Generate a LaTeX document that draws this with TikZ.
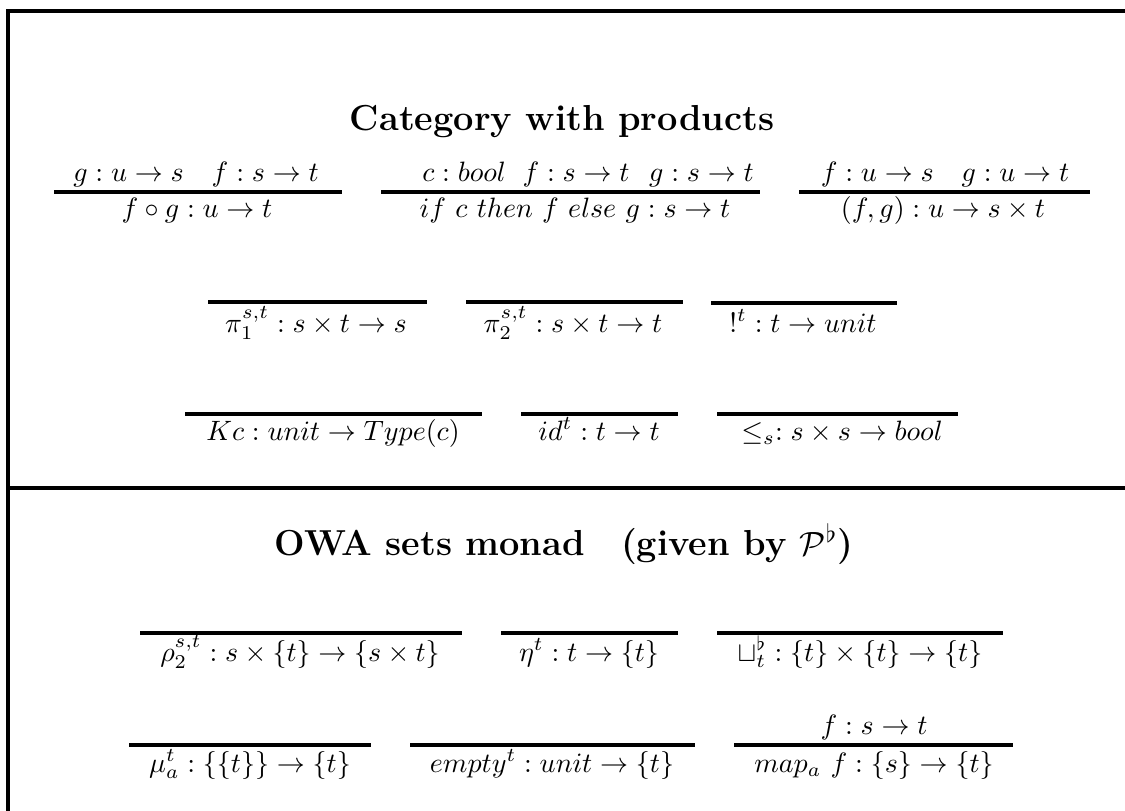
\documentclass[tikz,border=0pt]{standalone}
\begin{document}
\begin{tikzpicture}[x=0.357pt,y=-0.357pt,
  lbl/.style={inner sep=0pt, anchor=base, font=\fontsize{10}{12}\selectfont},
  ttl/.style={inner sep=0pt, anchor=base, font=\fontsize{12.9}{15}\selectfont\bfseries},
  rulebar/.style={line width=1.15pt},
  framebar/.style={line width=1.2pt}]
\useasboundingbox (0,0) rectangle (1125,811);
% frame
\draw[framebar] (1125,11) -- (8,11) -- (8,811);
\draw[framebar] (8,488) -- (1125,488);
% titles
\node[ttl] (t1) at (562,131) {Category with products};
\node[ttl] (t2) at (564,555) {OWA sets monad\quad (given by $\mathcal{P}^\flat$)};
% row 1
\node[lbl] (n1) at (196,182) {$g : u \to s \quad f : s \to t$};
\node[lbl] (d1) at (197,218) {$f \circ g : u \to t$};
\draw[rulebar] (54,192) -- (342,192);
\node[lbl] (n2) at (588,182) {$c : bool\hspace{6pt} f : s \to t\hspace{7pt} g : s \to t$};
\node[lbl] (d2) at (575,218) {$if\ c\ then\ f\ else\ g : s \to t$};
\draw[rulebar] (381,192) -- (760,192);
\node[lbl] (n3) at (945,182) {$f : u \to s \quad g : u \to t$};
\node[lbl] (d3) at (943,218) {$(f,g) : u \to s \times t$};
\draw[rulebar] (799,192) -- (1090,192);
% row 2
\node[lbl] (p1) at (316,332) {$\pi_1^{s,t} : s \times t \to s$};
\draw[rulebar] (208,302) -- (427,302);
\node[lbl] (p2) at (573,332) {$\pi_2^{s,t} : s \times t \to t$};
\draw[rulebar] (466,302) -- (683,302);
\node[lbl] (bang) at (803,332) {$!^t : t \to unit$};
\draw[rulebar] (711,303) -- (897,303);
% row 3
\node[lbl] (kc) at (333,440) {$Kc : unit \to Type(c)$};
\draw[rulebar] (185,414) -- (482,414);
\node[lbl] (id) at (599,440) {$id^t : t \to t$};
\draw[rulebar] (521,414) -- (678,414);
\node[lbl] (le) at (842,440) {$\leq_s : s \times s \to bool$};
\draw[rulebar] (717,414) -- (958,414);
% row 4
\node[lbl] (rho) at (300,661) {$\rho_2^{s,t} : s \times \{t\} \to \{s \times t\}$};
\draw[rulebar] (140,633) -- (462,633);
\node[lbl] (eta) at (589,661) {$\eta^t : t \to \{t\}$};
\draw[rulebar] (501,633) -- (678,633);
\node[lbl] (cup) at (860,661) {$\sqcup^\flat_t : \{t\} \times \{t\} \to \{t\}$};
\draw[rulebar] (717,633) -- (1003,633);
% row 5
\node[lbl] (mu) at (250,772) {$\mu_a^t : \{\{t\}\} \to \{t\}$};
\draw[rulebar] (129,745) -- (371,745);
\node[lbl] (emp) at (552,772) {$empty^t : unit \to \{t\}$};
\draw[rulebar] (410,745) -- (695,745);
\node[lbl] (mapn) at (874,734) {$f : s \to t$};
\node[lbl] (mapd) at (874,772) {$map_a\ f : \{s\} \to \{t\}$};
\draw[rulebar] (734,745) -- (1013,745);
\end{tikzpicture}
\end{document}
